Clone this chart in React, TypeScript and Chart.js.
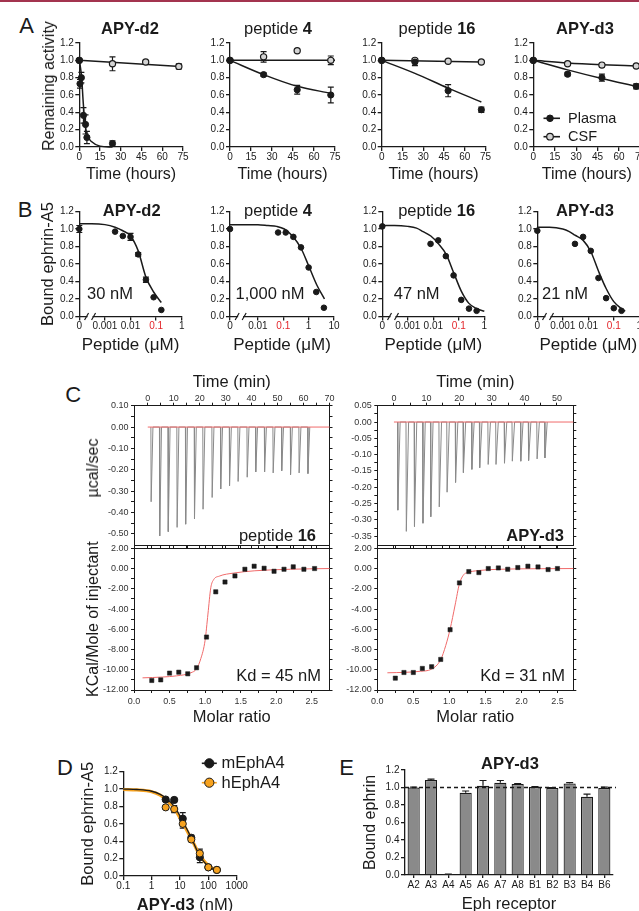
import React, { useEffect, useRef } from 'react';
import { Chart, registerables } from 'chart.js';
Chart.register(...registerables);

const FONT = '"Liberation Sans", Arial, Helvetica, sans-serif';
const INK = '#1a1a1a';
const RED_TICK = '#e3262b';
const ITC_RED = '#f06a6a';
const ITC_GRAY = '#8a8a8a';
const BAR_GRAY = '#8a8a8a';
const ORANGE = '#f7a21e';

// ---------------- Panel A : stability ----------------
const A_X_TICKS = [0, 15, 30, 45, 60, 75];
const UNIT_Y_TICKS = [0, 0.2, 0.4, 0.6, 0.8, 1.0, 1.2];
const A_TIMES = [0, 24, 48, 72];

const A1_PLASMA_T = [0, 0.5, 1.5, 3, 4.5, 5.5, 24];
const A1_PLASMA = [1.0, 0.73, 0.8, 0.365, 0.26, 0.11, 0.04];
const A1_PLASMA_ERR = [0, 0.05, 0.06, 0.09, 0.11, 0.07, 0.03];
const A1_CSF = [1.0, 0.96, 0.98, 0.93];
const A1_CSF_ERR = [0, 0.08, 0, 0.03];
const A1_PLASMA_FIT_T = [0, 1, 1.7, 2.9, 4.1, 5.9, 9, 15, 24];
const A1_PLASMA_FIT = [1.0, 0.9, 0.8, 0.5, 0.27, 0.13, 0.06, 0.01, 0.0];
const A1_CSF_FIT_T = [0, 73];
const A1_CSF_FIT = [1.0, 0.93];

const A2_PLASMA = [1.0, 0.835, 0.66, 0.6];
const A2_PLASMA_ERR = [0, 0.02, 0.05, 0.09];
const A2_CSF = [1.0, 1.04, 1.11, 1.0];
const A2_CSF_ERR = [0, 0.06, 0, 0.05];
const A2_PLASMA_FIT_T = [0, 24, 48, 72];
const A2_PLASMA_FIT = [1.0, 0.835, 0.7, 0.62];
const A2_CSF_FIT_T = [0, 75];
const A2_CSF_FIT = [1.0, 1.0];

const A3_PLASMA = [1.0, 0.98, 0.65, 0.43];
const A3_PLASMA_ERR = [0, 0.04, 0.07, 0.03];
const A3_CSF = [1.0, 1.0, 0.99, 0.98];
const A3_CSF_ERR = [0, 0, 0, 0];
const A3_PLASMA_FIT_T = [0, 24, 48, 72];
const A3_PLASMA_FIT = [1.0, 0.85, 0.68, 0.52];
const A3_CSF_FIT_T = [0, 72];
const A3_CSF_FIT = [1.0, 0.98];

const A4_PLASMA = [1.0, 0.84, 0.8, 0.7];
const A4_PLASMA_ERR = [0, 0.02, 0.04, 0.03];
const A4_CSF = [1.0, 0.96, 0.945, 0.935];
const A4_CSF_ERR = [0, 0.01, 0.02, 0.01];
const A4_PLASMA_FIT_T = [0, 24, 48, 72];
const A4_PLASMA_FIT = [1.0, 0.89, 0.79, 0.7];
const A4_CSF_FIT_T = [0, 24, 48, 72];
const A4_CSF_FIT = [1.0, 0.97, 0.95, 0.935];

const A_LEGEND = ['Plasma', 'CSF'];

// ---------------- Panel B : inhibition (µM) ----------------
const B_STD_TICKS = [-4, -3, -2, -1, 0];
const B_STD_LABELS = ['0', '0.001', '0.01', '0.1', '1'];
const B2_TICKS = [-3.1, -2, -1, 0, 1];
const B2_LABELS = ['0', '0.01', '0.1', '1', '10'];

const B1_CONC = [0, 0.0025, 0.005, 0.01, 0.02, 0.04, 0.08, 0.16];
const B1_BOUND = [1.0, 0.97, 0.92, 0.91, 0.71, 0.42, 0.22, 0.075];
const B1_ERR = [0.04, 0, 0, 0.04, 0.02, 0.03, 0, 0];
const B1_FIT_CONC = [0, 0.0003, 0.001, 0.0025, 0.005, 0.01, 0.02, 0.04, 0.08, 0.16];
const B1_FIT = [1.06, 1.06, 1.05, 1.02, 0.98, 0.92, 0.75, 0.45, 0.28, 0.16];

const B2_CONC = [0, 0.0625, 0.125, 0.25, 0.5, 1, 2, 4];
const B2_BOUND = [1.0, 0.96, 0.96, 0.91, 0.79, 0.56, 0.28, 0.1];
const B2_ERR = [0, 0, 0, 0, 0, 0, 0, 0];
const B2_FIT_CONC = [0, 0.003, 0.01, 0.025, 0.055, 0.11, 0.23, 0.5, 1, 2.1, 4.2];
const B2_FIT = [1.05, 1.05, 1.05, 1.04, 1.03, 1.0, 0.92, 0.78, 0.58, 0.36, 0.2];

const B3_CONC = [0, 0.0078, 0.0156, 0.031, 0.0625, 0.125, 0.25, 0.5];
const B3_BOUND = [1.03, 0.83, 0.87, 0.69, 0.47, 0.19, 0.09, 0.065];
const B3_ERR = [0, 0, 0, 0, 0, 0, 0, 0];
const B3_FIT_CONC = [0, 0.0003, 0.001, 0.0022, 0.004, 0.008, 0.016, 0.032, 0.063, 0.125, 0.25, 0.5, 1];
const B3_FIT = [1.04, 1.04, 1.03, 1.01, 0.97, 0.92, 0.83, 0.71, 0.5, 0.29, 0.15, 0.09, 0.06];

const B4_CONC = [0, 0.003, 0.00625, 0.0125, 0.025, 0.05, 0.1, 0.2];
const B4_BOUND = [0.98, 0.83, 0.91, 0.75, 0.44, 0.21, 0.095, 0.065];
const B4_ERR = [0, 0, 0, 0, 0, 0, 0, 0];
const B4_FIT_CONC = [0, 0.0003, 0.001, 0.0018, 0.003, 0.0063, 0.0126, 0.025, 0.05, 0.1, 0.2, 0.28];
const B4_FIT = [1.02, 1.02, 1.0, 0.97, 0.93, 0.87, 0.74, 0.52, 0.32, 0.17, 0.09, 0.06];

const B_X_MIN = [-4, -3.1, -4, -4];
const B_X_MAX = [0, 1, 0, 0];

// ---------------- Panel C : ITC ----------------
const ITC_L_INJ_T = [1.2, 4.5, 7.8, 11.2, 14.5, 17.9, 21.2, 24.7, 28.0, 31.4, 34.7, 38.2, 41.5, 44.9, 48.2, 51.5, 54.9, 58.2, 61.6];
const ITC_L_INJ_DEPTH = [-0.35, -0.51, -0.49, -0.47, -0.455, -0.43, -0.385, -0.33, -0.29, -0.275, -0.255, -0.235, -0.21, -0.21, -0.215, -0.205, -0.223, -0.215, -0.218];
const ITC_R_INJ_T = [1.1, 3.7, 6.2, 8.8, 11.2, 13.8, 16.2, 18.8, 21.2, 23.8, 26.2, 28.8, 31.2, 33.8, 36.2, 38.8, 41.2, 43.8, 46.2];
const ITC_R_INJ_DEPTH = [-0.27, -0.335, -0.32, -0.31, -0.29, -0.26, -0.215, -0.185, -0.155, -0.145, -0.14, -0.13, -0.13, -0.126, -0.12, -0.12, -0.118, -0.113, -0.11];
const ITC_L_BASE_T = [0, 70];
const ITC_R_BASE_T = [0, 55];

const ITC_L_RATIO = [0.25, 0.376, 0.5, 0.63, 0.756, 0.88, 1.02, 1.15, 1.28, 1.42, 1.56, 1.69, 1.83, 1.97, 2.11, 2.24, 2.39, 2.54];
const ITC_L_HEAT = [-11.06, -11.0, -10.33, -10.24, -10.4, -9.8, -6.77, -2.3, -1.33, -0.73, -0.07, 0.23, 0.03, -0.27, -0.07, 0.17, -0.07, 0.0];
const ITC_L_FIT_X = [0.12, 0.4, 0.6, 0.8, 0.88, 0.94, 1.0, 1.04, 1.08, 1.12, 1.2, 1.4, 1.7, 2.2, 2.75];
const ITC_L_FIT_Y = [-10.8, -10.72, -10.6, -10.3, -9.9, -8.9, -7.1, -4.5, -1.9, -1.1, -0.75, -0.45, -0.22, -0.07, 0];

const ITC_R_RATIO = [0.25, 0.37, 0.5, 0.625, 0.754, 0.88, 1.01, 1.14, 1.27, 1.41, 1.54, 1.68, 1.81, 1.95, 2.09, 2.23, 2.37, 2.5];
const ITC_R_HEAT = [-10.83, -10.27, -10.27, -9.87, -9.7, -8.98, -6.04, -1.42, -0.3, -0.4, 0.0, 0.06, -0.07, 0.1, 0.23, 0.16, -0.1, 0.0];
const ITC_R_FIT_X = [0.14, 0.4, 0.6, 0.75, 0.88, 0.95, 1.01, 1.08, 1.14, 1.2, 1.25, 1.4, 1.7, 2.2, 2.72];
const ITC_R_FIT_Y = [-10.3, -10.25, -10.15, -9.95, -9.0, -7.6, -6.0, -3.6, -1.5, -0.6, -0.4, -0.2, -0.07, -0.02, 0];

const TL_X_TICKS = [0, 5, 10, 15, 20, 25, 30, 35, 40, 45, 50, 55, 60, 65, 70];
const TL_Y_TICKS = [0.1, 0.05, 0, -0.05, -0.1, -0.15, -0.2, -0.25, -0.3, -0.35, -0.4, -0.45, -0.5];
const TR_X_TICKS = [0, 5, 10, 15, 20, 25, 30, 35, 40, 45, 50];
const TR_Y_TICKS = [0.05, 0.025, 0, -0.025, -0.05, -0.075, -0.1, -0.125, -0.15, -0.175, -0.2, -0.225, -0.25, -0.275, -0.3, -0.325, -0.35];
const HEAT_TICKS = [2, 1, 0, -1, -2, -3, -4, -5, -6, -7, -8, -9, -10, -11, -12];
const RATIO_TICKS = [0, 0.25, 0.5, 0.75, 1.0, 1.25, 1.5, 1.75, 2.0, 2.25, 2.5];

// ---------------- Panel D ----------------
const D_CONC_NM = [3.125, 6.25, 12.5, 25, 50, 100, 200];
const D_MOUSE = [0.88, 0.875, 0.66, 0.44, 0.215, 0.1, 0.07];
const D_MOUSE_ERR = [0.02, 0.02, 0.07, 0.03, 0.06, 0.01, 0.01];
const D_HUMAN = [0.79, 0.77, 0.6, 0.42, 0.26, 0.1, 0.07];
const D_HUMAN_ERR = [0.02, 0.04, 0.05, 0.02, 0.05, 0.01, 0.01];
const D_FIT_CONC = [0.1, 0.3, 1, 2, 3.125, 6.25, 12.5, 25, 50, 100, 200];
const D_MOUSE_FIT = [1.0, 0.995, 0.975, 0.94, 0.9, 0.8, 0.63, 0.44, 0.23, 0.11, 0.06];
const D_HUMAN_FIT = [0.995, 0.99, 0.97, 0.93, 0.88, 0.78, 0.61, 0.43, 0.24, 0.12, 0.065];
const D_X_TICKS = [0.1, 1, 10, 100, 1000];
const D_LEGEND = ['mEphA4', 'hEphA4'];

// ---------------- Panel E ----------------
const E_RECEPTORS = ['A2', 'A3', 'A4', 'A5', 'A6', 'A7', 'A8', 'B1', 'B2', 'B3', 'B4', 'B6'];
const E_BOUND = [1.0, 1.085, 0.005, 0.94, 1.02, 1.055, 1.04, 1.005, 0.995, 1.045, 0.895, 0.995];
const E_ERR = [0.005, 0.01, 0.005, 0.02, 0.06, 0.025, 0.005, 0.005, 0.003, 0.01, 0.03, 0.01];

// ======================================================
type LTRB = [number, number, number, number];
type Spec = { cv: LTRB; make: () => any };

function sides(cv: LTRB, pl: LTRB) {
  return { l: pl[0] - cv[0], t: pl[1] - cv[1], r: cv[2] - pl[2], b: cv[3] - pl[3] };
}

type AxOpt = {
  pos: 'left' | 'right' | 'top' | 'bottom';
  size: number;
  min?: number;
  max?: number;
  ticks?: number[];
  fmt?: (v: number, i: number) => string;
  font?: number;
  len?: number;
  pad?: number;
  title?: string;
  tsize?: number;
  type?: string;
  color?: any;
  lw?: number;
  offset?: boolean;
};

function ax(o: AxOpt) {
  const horiz = o.pos === 'top' || o.pos === 'bottom';
  const lw = o.lw ?? 1.3;
  const c: any = {
    type: o.type || 'linear',
    axis: horiz ? 'x' : 'y',
    position: o.pos,
    offset: o.offset ?? false,
    afterFit: (s: any) => {
      if (horiz) s.height = o.size;
      else s.width = o.size;
    },
    grid: { display: true, drawOnChartArea: false, drawTicks: true, tickLength: o.len ?? 4, color: INK, tickColor: INK, lineWidth: lw, offset: false },
    border: { display: true, color: INK, width: lw },
    ticks: {
      autoSkip: false,
      maxRotation: 0,
      minRotation: 0,
      padding: o.pad ?? 1.5,
      font: { family: FONT, size: o.font ?? 10 },
      color: o.color ?? INK,
      callback: (v: any, i: number) => (o.fmt ? o.fmt(Number(v), i) : String(v)),
    },
    title: o.title
      ? { display: true, text: o.title, padding: 0, color: INK, font: { family: FONT, size: o.tsize ?? 16 } }
      : { display: false },
  };
  if (o.min !== undefined) c.min = o.min;
  if (o.max !== undefined) c.max = o.max;
  if (o.ticks) {
    const tk = o.ticks;
    c.afterBuildTicks = (s: any) => {
      s.ticks = tk.map((v) => ({ value: v }));
    };
  }
  return c;
}

const errorBarPlugin = {
  id: 'errorBars',
  beforeDatasetsDraw(chart: any) {
    const ctx = chart.ctx;
    chart.data.datasets.forEach((ds: any, i: number) => {
      if (!ds.errors) return;
      const meta = chart.getDatasetMeta(i);
      const ys = chart.scales[meta.yAxisID];
      ctx.save();
      ctx.strokeStyle = ds.errColor || INK;
      ctx.lineWidth = ds.errWidth || 1.2;
      meta.data.forEach((el: any, j: number) => {
        const e = ds.errors[j];
        if (!e) return;
        const d = ds.data[j];
        const v = typeof d === 'number' ? d : d.y;
        const x = el.x;
        const y1 = ys.getPixelForValue(v + e);
        const y0 = ds.errUp ? ys.getPixelForValue(v) : ys.getPixelForValue(v - e);
        const c = ds.cap ?? 3;
        ctx.beginPath();
        ctx.moveTo(x, y0);
        ctx.lineTo(x, y1);
        ctx.moveTo(x - c, y1);
        ctx.lineTo(x + c, y1);
        if (!ds.errUp) {
          ctx.moveTo(x - c, y0);
          ctx.lineTo(x + c, y0);
        }
        ctx.stroke();
      });
      ctx.restore();
    });
  },
};

function breakPlugin(at: number) {
  return {
    id: 'axisBreak',
    afterDraw(chart: any) {
      const ctx = chart.ctx;
      const x = chart.scales.x.getPixelForValue(at);
      const y = chart.chartArea.bottom;
      ctx.save();
      ctx.fillStyle = '#fff';
      ctx.fillRect(x - 2.5, y - 3, 5, 6);
      ctx.strokeStyle = INK;
      ctx.lineWidth = 1.2;
      ctx.beginPath();
      ctx.moveTo(x - 5.5, y + 3.5);
      ctx.lineTo(x - 1.5, y - 3.5);
      ctx.moveTo(x + 1.5, y + 3.5);
      ctx.lineTo(x + 5.5, y - 3.5);
      ctx.stroke();
      ctx.restore();
    },
  };
}

function refLinePlugin(value: number) {
  return {
    id: 'refLine',
    afterDatasetsDraw(chart: any) {
      const ctx = chart.ctx;
      const y = chart.scales.y.getPixelForValue(value);
      ctx.save();
      ctx.strokeStyle = INK;
      ctx.lineWidth = 1.3;
      ctx.setLineDash([4, 3]);
      ctx.beginPath();
      ctx.moveTo(chart.chartArea.left, y);
      ctx.lineTo(chart.chartArea.right + 3, y);
      ctx.stroke();
      ctx.restore();
    },
  };
}

type LegItem = { x: number; y: number; tx: number; text: string; r: number; fill: string; stroke: string; bw: number; line: string; l1: number; l2: number; size: number };
function legendPlugin(items: LegItem[], ox: number, oy: number) {
  return {
    id: 'lineLegend',
    afterDatasetsDraw(chart: any) {
      const ctx = chart.ctx;
      items.forEach((it) => {
        const x = it.x - ox;
        const y = it.y - oy;
        ctx.save();
        ctx.strokeStyle = it.line;
        ctx.lineWidth = 1.6;
        ctx.beginPath();
        ctx.moveTo(x - it.l1, y);
        ctx.lineTo(x + it.l2, y);
        ctx.stroke();
        ctx.beginPath();
        ctx.arc(x, y, it.r, 0, Math.PI * 2);
        ctx.fillStyle = it.fill;
        ctx.fill();
        ctx.lineWidth = it.bw;
        ctx.strokeStyle = it.stroke;
        ctx.stroke();
        ctx.fillStyle = INK;
        ctx.font = `${it.size}px ${FONT}`;
        ctx.textAlign = 'left';
        ctx.textBaseline = 'middle';
        ctx.fillText(it.text, it.tx - ox, y + 0.5);
        ctx.restore();
      });
    },
  };
}

function cfg(type: string, datasets: any[], scales: any, pad: any, plugins: any[] = [], labels?: string[]) {
  return {
    type,
    data: labels ? { labels, datasets } : { datasets },
    options: {
      responsive: false,
      animation: false,
      devicePixelRatio: 1,
      events: [],
      layout: { padding: pad, autoPadding: false },
      plugins: { legend: { display: false }, tooltip: { enabled: false }, title: { display: false } },
      scales,
    },
    plugins: [errorBarPlugin, ...plugins],
  };
}

function pts(xs: number[], ys: number[], st: any, errors?: number[], order = 0) {
  return { data: xs.map((x, i) => ({ x, y: ys[i] })), showLine: false, clip: false, order, errors, ...st };
}
function fitLine(xs: number[], ys: number[], color: string, w: number, order = 5, mode: any = 'monotone') {
  return {
    data: xs.map((x, i) => ({ x, y: ys[i] })),
    showLine: true,
    pointRadius: 0,
    borderColor: color,
    borderWidth: w,
    cubicInterpolationMode: mode,
    tension: 0,
    clip: false,
    order,
    fill: false,
  };
}

const PLASMA_ST = { pointStyle: 'circle', pointRadius: 3.1, pointBackgroundColor: INK, pointBorderColor: INK, pointBorderWidth: 1, cap: 3 };
const CSF_ST = { pointStyle: 'circle', pointRadius: 3.1, pointBackgroundColor: '#d4d4d4', pointBorderColor: INK, pointBorderWidth: 1.2, cap: 3 };

// ---------- Panel A specs ----------
const A_LAYOUT = [
  { cvL: 45, cvR: 196, L: 79.3, R: 183 },
  { cvL: 196, cvR: 347, L: 230, R: 335 },
  { cvL: 347, cvR: 497, L: 381.7, R: 485.5 },
  { cvL: 497, cvR: 655, L: 533.3, R: 640.5 },
];
const A_DATA = [
  { pt: A1_PLASMA_T, p: A1_PLASMA, pe: A1_PLASMA_ERR, c: A1_CSF, ce: A1_CSF_ERR, pft: A1_PLASMA_FIT_T, pf: A1_PLASMA_FIT, cft: A1_CSF_FIT_T, cf: A1_CSF_FIT },
  { pt: A_TIMES, p: A2_PLASMA, pe: A2_PLASMA_ERR, c: A2_CSF, ce: A2_CSF_ERR, pft: A2_PLASMA_FIT_T, pf: A2_PLASMA_FIT, cft: A2_CSF_FIT_T, cf: A2_CSF_FIT },
  { pt: A_TIMES, p: A3_PLASMA, pe: A3_PLASMA_ERR, c: A3_CSF, ce: A3_CSF_ERR, pft: A3_PLASMA_FIT_T, pf: A3_PLASMA_FIT, cft: A3_CSF_FIT_T, cf: A3_CSF_FIT },
  { pt: A_TIMES, p: A4_PLASMA, pe: A4_PLASMA_ERR, c: A4_CSF, ce: A4_CSF_ERR, pft: A4_PLASMA_FIT_T, pf: A4_PLASMA_FIT, cft: A4_CSF_FIT_T, cf: A4_CSF_FIT },
];

function makeA(i: number): Spec {
  const lay = A_LAYOUT[i];
  const d = A_DATA[i];
  const cv: LTRB = [lay.cvL, 30, lay.cvR, 184];
  const s = sides(cv, [lay.L, 43, lay.R, 147]);
  const extra: any[] = [];
  if (i === 3) {
    extra.push(
      legendPlugin(
        [
          { x: 550, y: 118.3, tx: 568, text: A_LEGEND[0], r: 3.3, fill: INK, stroke: INK, bw: 1, line: INK, l1: 6.5, l2: 10, size: 14.5 },
          { x: 550, y: 136.7, tx: 568, text: A_LEGEND[1], r: 3.3, fill: '#d4d4d4', stroke: INK, bw: 1.2, line: INK, l1: 6.5, l2: 10, size: 14.5 },
        ],
        cv[0],
        cv[1]
      )
    );
  }
  return {
    cv,
    make: () =>
      cfg(
        'scatter',
        [
          fitLine(d.pft, d.pf, INK, 1.5, 5),
          fitLine(d.cft, d.cf, INK, 1.5, 6),
          pts(d.pt, d.p, PLASMA_ST, d.pe, 0),
          pts(A_TIMES, d.c, CSF_ST, d.ce, 1),
        ],
        {
          x: ax({ pos: 'bottom', size: s.b, min: 0, max: 75, ticks: A_X_TICKS, pad: 0, title: 'Time (hours)', tsize: 16 }),
          y: ax({ pos: 'left', size: s.l, min: 0, max: 1.2, ticks: UNIT_Y_TICKS, fmt: (v) => v.toFixed(1) }),
        },
        { top: s.t, right: s.r, left: 0, bottom: 0 },
        extra
      ),
  };
}

// ---------- Panel B specs ----------
const B_LAYOUT = [
  { cvL: 39, cvR: 196, L: 79.3, R: 181.7 },
  { cvL: 196, cvR: 347, L: 230, R: 334 },
  { cvL: 347, cvR: 497, L: 382.3, R: 484.3 },
  { cvL: 497, cvR: 655, L: 537.3, R: 639.3 },
];
const B_DATA = [
  { conc: B1_CONC, v: B1_BOUND, e: B1_ERR, fc: B1_FIT_CONC, f: B1_FIT, ticks: B_STD_TICKS, labels: B_STD_LABELS },
  { conc: B2_CONC, v: B2_BOUND, e: B2_ERR, fc: B2_FIT_CONC, f: B2_FIT, ticks: B2_TICKS, labels: B2_LABELS },
  { conc: B3_CONC, v: B3_BOUND, e: B3_ERR, fc: B3_FIT_CONC, f: B3_FIT, ticks: B_STD_TICKS, labels: B_STD_LABELS },
  { conc: B4_CONC, v: B4_BOUND, e: B4_ERR, fc: B4_FIT_CONC, f: B4_FIT, ticks: B_STD_TICKS, labels: B_STD_LABELS },
];
const lg = (c: number, min: number) => (c <= 0 ? min : Math.log10(c));

function makeB(i: number): Spec {
  const lay = B_LAYOUT[i];
  const d = B_DATA[i];
  const min = B_X_MIN[i];
  const max = B_X_MAX[i];
  const cv: LTRB = [lay.cvL, 200, lay.cvR, 356];
  const s = sides(cv, [lay.L, 211.5, lay.R, 316.5]);
  const labels = d.labels;
  return {
    cv,
    make: () =>
      cfg(
        'scatter',
        [
          fitLine(d.fc.map((c) => lg(c, min)), d.f, INK, 1.5, 5),
          pts(d.conc.map((c) => lg(c, min)), d.v, { pointStyle: 'circle', pointRadius: 2.8, pointBackgroundColor: INK, pointBorderColor: INK, pointBorderWidth: 1, cap: 3 }, d.e, 0),
        ],
        {
          x: ax({
            pos: 'bottom',
            size: s.b,
            min,
            max,
            ticks: d.ticks,
            pad: 0,
            fmt: (_v, k) => labels[k],
            color: (c: any) => (labels[c.index] === '0.1' ? RED_TICK : INK),
            title: 'Peptide (\u03BCM)',
            tsize: 17,
          }),
          y: ax({
            pos: 'left',
            size: s.l,
            min: 0,
            max: 1.2,
            ticks: UNIT_Y_TICKS,
            fmt: (v) => v.toFixed(1),
            title: i === 0 ? 'Bound ephrin-A5' : undefined,
            tsize: 16.5,
          }),
        },
        { top: s.t, right: s.r, left: 0, bottom: 0 },
        [breakPlugin(min + 0.42)]
      ),
  };
}

// ---------- Panel C specs ----------
const major = (step: number, dec: number) => (v: number) => (Math.abs(v / step - Math.round(v / step)) < 1e-6 ? v.toFixed(dec) : '');

function spikes(times: number[], depths: number[]) {
  const out: number[][] = [];
  times.forEach((t, k) => {
    out.push([t, 0], [t + 0.1, depths[k]], [t + 0.8, 0]);
  });
  return out;
}

function makeCTop(cv: LTRB, pl: LTRB, xmin: number, xmax: number, ymin: number, ymax: number, xt: number[], yt: number[], ystep: number, injT: number[], injD: number[], baseT: number[]): Spec {
  const s = sides(cv, pl);
  const sp = spikes(injT, injD);
  return {
    cv,
    make: () =>
      cfg(
        'scatter',
        [
          fitLine(baseT, baseT.map(() => 0), ITC_RED, 1, 0, 'default'),
          fitLine(sp.map((p) => p[0]), sp.map((p) => p[1]), ITC_GRAY, 1, 2, 'default'),
        ],
        {
          x: ax({ pos: 'top', size: s.t, min: xmin, max: xmax, ticks: xt, fmt: major(10, 0), font: 9, len: 3, pad: -1, lw: 1, color: '#333', title: 'Time (min)', tsize: 16.5 }),
          x2: ax({ pos: 'bottom', size: s.b, min: xmin, max: xmax, ticks: xt, fmt: () => '', len: 3, lw: 1 }),
          y: ax({ pos: 'left', size: s.l, min: ymin, max: ymax, ticks: yt, fmt: major(ystep, 2), font: 9, len: 3, pad: 2.5, lw: 1, color: '#333' }),
          y2: ax({ pos: 'right', size: s.r, min: ymin, max: ymax, ticks: yt, fmt: () => '', len: 3, lw: 1 }),
        },
        { top: 0, right: 0, left: 0, bottom: 0 }
      ),
  };
}

function makeCBottom(cv: LTRB, pl: LTRB, xmax: number, ratio: number[], heat: number[], fx: number[], fy: number[], withTitle: boolean): Spec {
  const s = sides(cv, pl);
  return {
    cv,
    make: () =>
      cfg(
        'scatter',
        [
          fitLine(fx, fy, ITC_RED, 1, 3),
          pts(ratio, heat, { pointStyle: 'rect', pointRadius: 3, pointBackgroundColor: INK, pointBorderColor: INK, pointBorderWidth: 0.5 }, undefined, 0),
        ],
        {
          x: ax({ pos: 'bottom', size: s.b, min: 0, max: xmax, ticks: RATIO_TICKS, fmt: major(0.5, 1), font: 9, len: 3, pad: 3, lw: 1, color: '#333', title: 'Molar ratio', tsize: 16.5 }),
          x2: ax({ pos: 'top', size: s.t, min: 0, max: xmax, ticks: RATIO_TICKS, fmt: () => '', len: 3, lw: 1 }),
          y: ax({ pos: 'left', size: s.l, min: -12, max: 2, ticks: HEAT_TICKS, fmt: major(2, 2), font: 9, len: 3, pad: 2.5, lw: 1, color: '#333', title: withTitle ? 'KCal/Mole of injectant' : undefined, tsize: 16 }),
          y2: ax({ pos: 'right', size: s.r, min: -12, max: 2, ticks: HEAT_TICKS, fmt: () => '', len: 3, lw: 1 }),
        },
        { top: 0, right: 0, left: 0, bottom: 0 }
      ),
  };
}

// ---------- Panel D spec ----------
function makeD(): Spec {
  const cv: LTRB = [79, 750, 300, 895];
  const s = sides(cv, [123.3, 771.7, 236.7, 876]);
  return {
    cv,
    make: () =>
      cfg(
        'scatter',
        [
          fitLine(D_FIT_CONC, D_HUMAN_FIT, ORANGE, 3.2, 6),
          fitLine(D_FIT_CONC, D_MOUSE_FIT, INK, 1.3, 5),
          pts(D_CONC_NM, D_MOUSE, { pointStyle: 'circle', pointRadius: 3.6, pointBackgroundColor: INK, pointBorderColor: INK, pointBorderWidth: 1, cap: 3 }, D_MOUSE_ERR, 1),
          pts(D_CONC_NM, D_HUMAN, { pointStyle: 'circle', pointRadius: 3.6, pointBackgroundColor: ORANGE, pointBorderColor: INK, pointBorderWidth: 1, cap: 3 }, D_HUMAN_ERR, 0),
        ],
        {
          x: ax({ type: 'logarithmic', pos: 'bottom', size: s.b, min: 0.1, max: 1000, ticks: D_X_TICKS, pad: 0, fmt: (v) => String(v) }),
          y: ax({ pos: 'left', size: s.l, min: 0, max: 1.2, ticks: UNIT_Y_TICKS, fmt: (v) => v.toFixed(1), title: 'Bound ephrin-A5', tsize: 16.5 }),
        },
        { top: s.t, right: s.r, left: 0, bottom: 0 },
        [
          legendPlugin(
            [
              { x: 209.3, y: 763.3, tx: 221.5, text: D_LEGEND[0], r: 4.6, fill: INK, stroke: INK, bw: 1, line: INK, l1: 7.5, l2: 7.5, size: 16.5 },
              { x: 209.3, y: 782.7, tx: 221.5, text: D_LEGEND[1], r: 4.6, fill: ORANGE, stroke: INK, bw: 1, line: ORANGE, l1: 7.5, l2: 7.5, size: 16.5 },
            ],
            cv[0],
            cv[1]
          ),
        ]
      ),
  };
}

// ---------- Panel E spec ----------
function makeE(): Spec {
  const cv: LTRB = [361, 755, 626, 914];
  const s = sides(cv, [405, 770, 613, 875]);
  return {
    cv,
    make: () =>
      cfg(
        'bar',
        [
          {
            data: E_BOUND,
            backgroundColor: BAR_GRAY,
            borderColor: INK,
            borderWidth: 1.2,
            barPercentage: 0.7,
            categoryPercentage: 1,
            errors: E_ERR,
            errUp: true,
            cap: 3.5,
          },
        ],
        {
          x: ax({ type: 'category', pos: 'bottom', size: s.b, offset: true, pad: 1.5, len: 3, fmt: (_v, k) => E_RECEPTORS[k], title: 'Eph receptor', tsize: 16.5 }),
          y: ax({ pos: 'left', size: s.l, min: 0, max: 1.2, ticks: UNIT_Y_TICKS, fmt: (v) => v.toFixed(1), title: 'Bound ephrin', tsize: 16 }),
        },
        { top: s.t, right: s.r, left: 0, bottom: 0 },
        [refLinePlugin(1.0)],
        E_RECEPTORS
      ),
  };
}

const SPECS: Spec[] = [
  makeA(0),
  makeA(1),
  makeA(2),
  makeA(3),
  makeB(0),
  makeB(1),
  makeB(2),
  makeB(3),
  makeCTop([84, 373, 336, 553], [134, 405.7, 329.5, 548.3], -5.3, 70, -0.553, 0.1, TL_X_TICKS, TL_Y_TICKS, 0.1, ITC_L_INJ_T, ITC_L_INJ_DEPTH, ITC_L_BASE_T),
  makeCBottom([84, 540, 336, 727], [134, 548.3, 329.5, 690], 2.75, ITC_L_RATIO, ITC_L_HEAT, ITC_L_FIT_X, ITC_L_FIT_Y, true),
  makeCTop([337, 373, 580, 553], [377.3, 405.7, 573.3, 548.3], -5.1, 55, -0.377, 0.05, TR_X_TICKS, TR_Y_TICKS, 0.05, ITC_R_INJ_T, ITC_R_INJ_DEPTH, ITC_R_BASE_T),
  makeCBottom([337, 540, 580, 727], [377.3, 548.3, 573.3, 690], 2.72, ITC_R_RATIO, ITC_R_HEAT, ITC_R_FIT_X, ITC_R_FIT_Y, false),
  makeD(),
  makeE(),
];

function ChartBox({ spec }: { spec: Spec }) {
  const ref = useRef<HTMLCanvasElement | null>(null);
  const [l, t, r, b] = spec.cv;
  useEffect(() => {
    const chart = new Chart(ref.current as HTMLCanvasElement, spec.make());
    return () => chart.destroy();
  }, [spec]);
  return <canvas ref={ref} width={r - l} height={b - t} style={{ position: 'absolute', left: l, top: t, width: r - l, height: b - t }} />;
}

function Txt({ x, y, size = 16.5, anchor = 'middle', rotate = false, weight = 400, color = INK, children }: any) {
  const tx = anchor === 'middle' ? '-50%' : anchor === 'end' ? '-100%' : '0';
  return (
    <div
      style={{
        position: 'absolute',
        left: x,
        top: y,
        transform: `translate(${tx}, -50%)${rotate ? ' rotate(-90deg)' : ''}`,
        fontSize: size,
        lineHeight: 1,
        whiteSpace: 'nowrap',
        fontWeight: weight,
        color,
      }}
    >
      {children}
    </div>
  );
}

export default function App() {
  return (
    <div style={{ position: 'absolute', left: 0, top: 0, width: 639, height: 911, overflow: 'hidden', background: '#fff', fontFamily: FONT, color: INK }}>
      <div style={{ position: 'absolute', left: 0, top: 0, width: 639, height: 2, background: '#a3344f' }} />
      {SPECS.map((s, i) => (
        <ChartBox key={i} spec={s} />
      ))}

      {/* panel letters */}
      <Txt x={26.7} y={25.5} size={22}>A</Txt>
      <Txt x={25} y={209.5} size={22}>B</Txt>
      <Txt x={73.3} y={395} size={22}>C</Txt>
      <Txt x={65} y={768.3} size={22}>D</Txt>
      <Txt x={346.7} y={768.3} size={22}>E</Txt>

      {/* Panel A titles */}
      <Txt x={130} y={27.5} size={16.5} weight={700}>APY-d2</Txt>
      <Txt x={278} y={27.5} size={16.5}>peptide <b>4</b></Txt>
      <Txt x={437} y={27.5} size={16.5}>peptide <b>16</b></Txt>
      <Txt x={585} y={28} size={16.5} weight={700}>APY-d3</Txt>
      <Txt x={49.2} y={86} size={16} rotate>Remaining activity</Txt>

      {/* Panel B titles and IC50s */}
      <Txt x={131.7} y={210} size={16.5} weight={700}>APY-d2</Txt>
      <Txt x={278} y={210} size={16.5}>peptide <b>4</b></Txt>
      <Txt x={436.7} y={210} size={16.5}>peptide <b>16</b></Txt>
      <Txt x={585} y={210} size={16.5} weight={700}>APY-d3</Txt>
      <Txt x={110} y={293} size={16.5}>30 nM</Txt>
      <Txt x={270} y={293} size={16.5}>1,000 nM</Txt>
      <Txt x={416.7} y={293} size={16.5}>47 nM</Txt>
      <Txt x={565} y={293} size={16.5}>21 nM</Txt>

      {/* Panel C */}
      <Txt x={93.3} y={468} size={16} rotate>µcal/sec</Txt>
      <Txt x={316} y={535} size={16.5} anchor="end">peptide <b>16</b></Txt>
      <Txt x={564} y={534.5} size={16.5} anchor="end" weight={700}>APY-d3</Txt>
      <Txt x={321} y={674.5} size={16.5} anchor="end">Kd = 45 nM</Txt>
      <Txt x={565} y={675} size={16.5} anchor="end">Kd = 31 nM</Txt>

      {/* Panel D */}
      <Txt x={185} y={903.5} size={16.5}><b>APY-d3</b> (nM)</Txt>

      {/* Panel E */}
      <Txt x={510} y={763.3} size={16.5} weight={700}>APY-d3</Txt>
    </div>
  );
}
